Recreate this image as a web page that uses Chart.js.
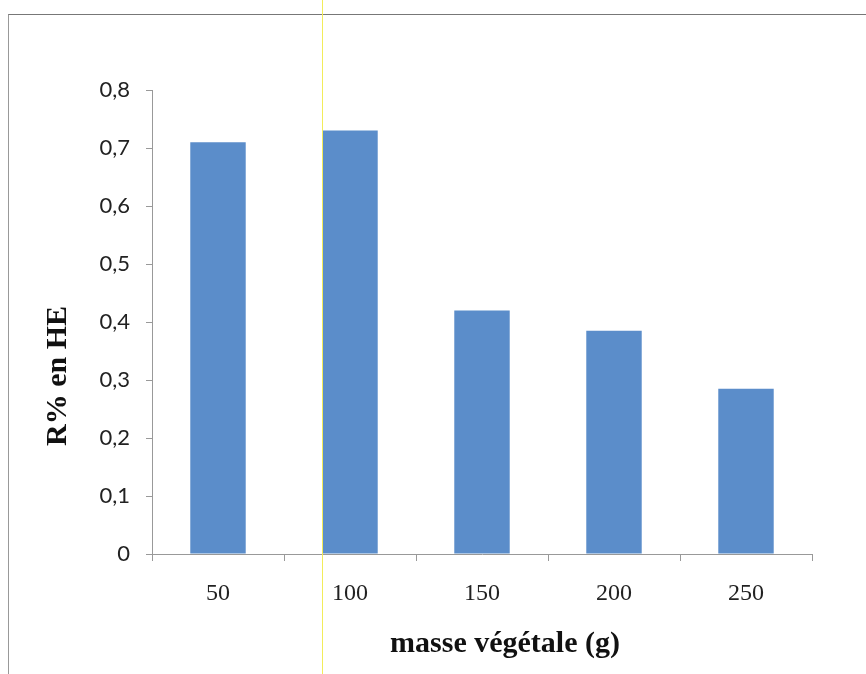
<!DOCTYPE html>
<html>
<head>
<meta charset="utf-8">
<script src="https://cdn.jsdelivr.net/npm/chart.js@4"></script>
<style>
  html, body { margin: 0; padding: 0; background: #fff; }
  #wrap { position: relative; width: 866px; height: 674px; }
  #frame { position: absolute; left: 8px; top: 14px; width: 870px; height: 680px;
           border-top: 1px solid #777; border-left: 1px solid #999; }
  #mark { position: absolute; left: 322px; top: 0; width: 1px; height: 674px; background: #f2ec5a; }
  canvas { position: absolute; left: 0; top: 0; }
</style>
</head>
<body>
<div id="wrap">
  <div id="frame"></div>
  <canvas id="chart" width="866" height="674"></canvas>
  <div id="mark"></div>
</div>
<script>
const masses = ['50', '100', '150', '200', '250'];
const rendement = [0.71, 0.73, 0.42, 0.385, 0.285];
const yTicks = [0, 0.1, 0.2, 0.3, 0.4, 0.5, 0.6, 0.7, 0.8];
const yTitle = 'R% en HE';
const xTitle = 'masse végétale (g)';

// axis titles sit off-centre in the original, so draw them by hand
const axisTitles = {
  id: 'axisTitles',
  afterDraw(chart) {
    const { ctx, chartArea: a } = chart;
    ctx.save();
    ctx.fillStyle = '#111';
    ctx.font = 'bold 30px "Liberation Serif"';
    ctx.textAlign = 'center';
    ctx.textBaseline = 'middle';
    ctx.fillText(xTitle, (a.left + a.right) / 2 + 23, a.bottom + 90);
    ctx.translate(58, (a.top + a.bottom) / 2 + 54);
    ctx.rotate(-Math.PI / 2);
    ctx.fillText(yTitle, 0, 0);
    ctx.restore();
  }
};

const ctx = document.getElementById('chart').getContext('2d');
new Chart(ctx, {
  type: 'bar',
  data: {
    labels: masses,
    datasets: [{ label: 'R%', data: rendement, backgroundColor: '#5b8dca', borderWidth: 0,
      categoryPercentage: 1, barPercentage: 0.42 }]
  },
  options: {
    responsive: false,
    animation: false,
    layout: { padding: { left: 0, right: 54, top: 90, bottom: 10 } },
    plugins: { legend: { display: false }, tooltip: { enabled: false } },
    scales: {
      y: {
        min: 0, max: 0.8,
        afterBuildTicks: s => { s.ticks = yTicks.map(v => ({ value: v })); },
        afterFit: s => { s.width = 152; },
        border: { color: '#999', width: 1 },
        grid: { drawOnChartArea: false, color: '#999', tickLength: 6 },
        ticks: {
          color: '#222', padding: 16,
          font: { family: 'Lato', size: 22 },
          callback: v => v === 0 ? '0' : v.toFixed(1).replace('.', ',')
        }
      },
      x: {
        afterFit: s => { s.height = 110; },
        border: { color: '#999', width: 1 },
        grid: { drawOnChartArea: false, color: '#999', tickLength: 7, offset: true },
        ticks: { color: '#222', padding: 18, font: { family: 'Liberation Serif', size: 24 } }
      }
    }
  },
  plugins: [axisTitles]
});
</script>
</body>
</html>
